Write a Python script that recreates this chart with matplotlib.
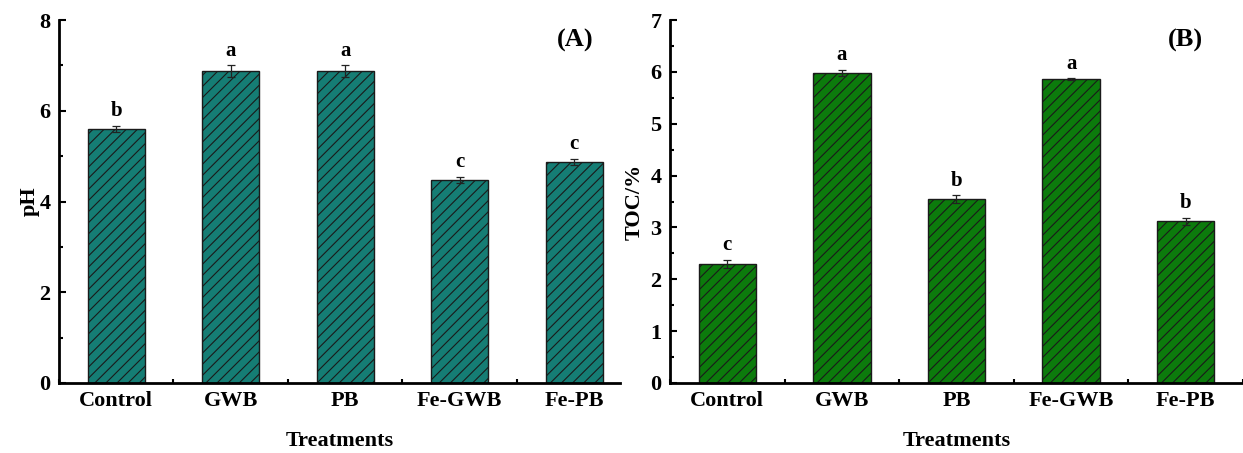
import matplotlib.pyplot as plt
import numpy as np
from matplotlib.ticker import MultipleLocator

plt.rcParams['font.family'] = ['Liberation Serif', 'DejaVu Serif']
plt.rcParams['font.weight'] = 'bold'
plt.rcParams['hatch.linewidth'] = 0.8

# datos
treatments = ['Control', 'GWB', 'PB', 'Fe-GWB', 'Fe-PB']
ph = [5.60, 6.87, 6.88, 4.48, 4.87]
ph_err = [0.07, 0.13, 0.13, 0.07, 0.07]
ph_letters = ['b', 'a', 'a', 'c', 'c']
toc = [2.30, 5.98, 3.55, 5.86, 3.12]
toc_err = [0.08, 0.06, 0.07, 0.02, 0.07]
toc_letters = ['c', 'a', 'b', 'a', 'b']

fig = plt.figure(figsize=(12.43, 4.53), dpi=100)
ax1 = fig.add_axes([59 / 1243, 1 - 383 / 453, (620 - 59) / 1243, (383 - 20) / 453])
ax2 = fig.add_axes([670 / 1243, 1 - 383 / 453, (1243 - 670) / 1243, (383 - 20) / 453])

x = np.arange(1, len(treatments) + 1)


def panel(ax, vals, errs, letters, color, ymax, major, minor, ylabel, ypad, tag, tagx, xmax):
    ax.bar(x, vals, width=0.5, color=color, edgecolor='#1a1a1a', linewidth=1.0,
           hatch='///', zorder=2)
    ax.errorbar(x, vals, yerr=errs, fmt='none', ecolor='#222222', elinewidth=0.9,
                capsize=3, capthick=0.9, zorder=3)
    for xi, v, e, l in zip(x, vals, errs, letters):
        ax.text(xi, v + e + ymax * 0.012, l, ha='center', va='bottom',
                fontsize=15, fontweight='bold')
    ax.set_xlim(0.5, xmax)
    ax.set_ylim(0, ymax)
    ax.set_xticks(x)
    ax.set_xticklabels(treatments, fontsize=16, fontweight='bold')
    ax.xaxis.set_minor_locator(MultipleLocator(1, offset=0.5))
    ax.yaxis.set_major_locator(MultipleLocator(major))
    ax.yaxis.set_minor_locator(MultipleLocator(minor))
    ax.tick_params(axis='both', which='both', direction='in', width=1.5)
    ax.tick_params(axis='both', which='major', length=5, labelsize=16, pad=6)
    ax.tick_params(axis='both', which='minor', length=3)
    for lab in ax.get_yticklabels():
        lab.set_fontweight('bold')
    ax.spines['top'].set_visible(False)
    ax.spines['right'].set_visible(False)
    ax.spines['left'].set_linewidth(2)
    ax.spines['bottom'].set_linewidth(2)
    ax.set_xlabel('Treatments', fontsize=16, fontweight='bold', labelpad=14)
    ax.set_ylabel(ylabel, fontsize=16, fontweight='bold', labelpad=ypad)
    ax.text(tagx, 0.945, tag, transform=ax.transAxes, ha='center', va='center',
            fontsize=19, fontweight='bold')


panel(ax1, ph, ph_err, ph_letters, '#157d74', 8, 2, 1, 'pH', 0, '(A)', 0.92, 5.4)
panel(ax2, toc, toc_err, toc_letters, '#0c7b0c', 7, 1, 0.5, 'TOC/%', 4.5, '(B)', 0.90, 5.5)

plt.savefig('out.png', dpi=100)
